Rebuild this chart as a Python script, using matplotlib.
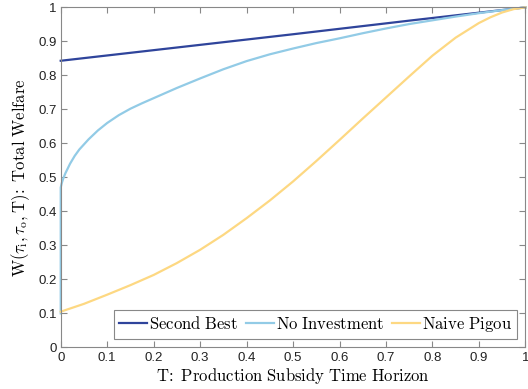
import matplotlib
matplotlib.use("Agg")
import matplotlib.pyplot as plt
import numpy as np

# values
t_second = [0.0, 0.25, 0.5, 0.75, 1.0]
w_second = [0.843, 0.882, 0.921, 0.961, 1.0]

t_noinv = [0, 0, 0.002, 0.005, 0.01, 0.02, 0.03, 0.04, 0.06, 0.08, 0.1,
           0.125, 0.15, 0.175, 0.2, 0.25, 0.3, 0.35, 0.4, 0.45, 0.5, 0.55,
           0.6, 0.65, 0.7, 0.75, 0.8, 0.85, 0.9, 0.95, 1.0]
w_noinv = [0.1, 0.47, 0.482, 0.495, 0.512, 0.54, 0.563, 0.582, 0.612, 0.638,
           0.66, 0.683, 0.702, 0.718, 0.733, 0.763, 0.791, 0.818, 0.842, 0.862,
           0.879, 0.895, 0.909, 0.924, 0.938, 0.951, 0.962, 0.973, 0.983,
           0.992, 1.0]

t_pigou = [0, 0.05, 0.1, 0.15, 0.2, 0.25, 0.3, 0.35, 0.4, 0.45, 0.5, 0.55,
           0.6, 0.65, 0.7, 0.75, 0.8, 0.85, 0.9, 0.925, 0.95, 0.975, 1.0]
w_pigou = [0.105, 0.128, 0.155, 0.183, 0.213, 0.248, 0.287, 0.331, 0.38,
           0.432, 0.488, 0.548, 0.61, 0.673, 0.735, 0.797, 0.858, 0.911,
           0.954, 0.971, 0.985, 0.995, 1.0]

labels = ["Second Best", "No Investment", "Naive Pigou"]
colors = ["#2f449b", "#92cbe6", "#fdd882"]

plt.rcParams["mathtext.fontset"] = "cm"
plt.rcParams["font.family"] = "Liberation Sans"

fig = plt.figure(figsize=(5.28, 3.89), dpi=100)
ax = fig.add_axes([0.115, 0.107, 0.88, 0.874])

ax.plot(t_second, w_second, color=colors[0], lw=1.6, label=labels[0], clip_on=False)
ax.plot(t_noinv, w_noinv, color=colors[1], lw=1.6, label=labels[1], clip_on=False)
ax.plot(t_pigou, w_pigou, color=colors[2], lw=1.6, label=labels[2], clip_on=False)

ax.set_xlim(0, 1)
ax.set_ylim(0, 1)
ax.set_xticks(np.arange(0, 1.01, 0.1))
ax.set_yticks(np.arange(0, 1.01, 0.1))
ax.set_xticklabels(["0", "0.1", "0.2", "0.3", "0.4", "0.5", "0.6", "0.7", "0.8", "0.9", "1"])
ax.set_yticklabels(["0", "0.1", "0.2", "0.3", "0.4", "0.5", "0.6", "0.7", "0.8", "0.9", "1"])
ax.tick_params(direction="in", top=True, right=True, length=4, width=0.8,
               color="#888888", labelsize=9.5, labelcolor="#222222", pad=3)
for s in ax.spines.values():
    s.set_color("#888888")
    s.set_linewidth(0.8)

ax.set_xlabel(r"$\mathrm{T\!:\ Production\ Subsidy\ Time\ Horizon}$", fontsize=12, labelpad=2)
ax.set_ylabel(r"$\mathrm{W}(\tau_\mathrm{i},\tau_\mathrm{o},\mathrm{T})\mathrm{\!:\ Total\ Welfare}$",
              fontsize=12, labelpad=4)

leg = ax.legend(loc="lower right", ncol=3, fancybox=False, framealpha=1,
                edgecolor="#888888", handlelength=1.65, handletextpad=0.12,
                columnspacing=0.5, borderpad=0.3, borderaxespad=0.5,
                prop={"size": 12})
leg.get_frame().set_linewidth(0.8)
for txt in leg.get_texts():
    txt.set_text(r"$\mathrm{" + txt.get_text().replace(" ", r"\ ") + "}$")

fig.savefig("out.png", dpi=100)
